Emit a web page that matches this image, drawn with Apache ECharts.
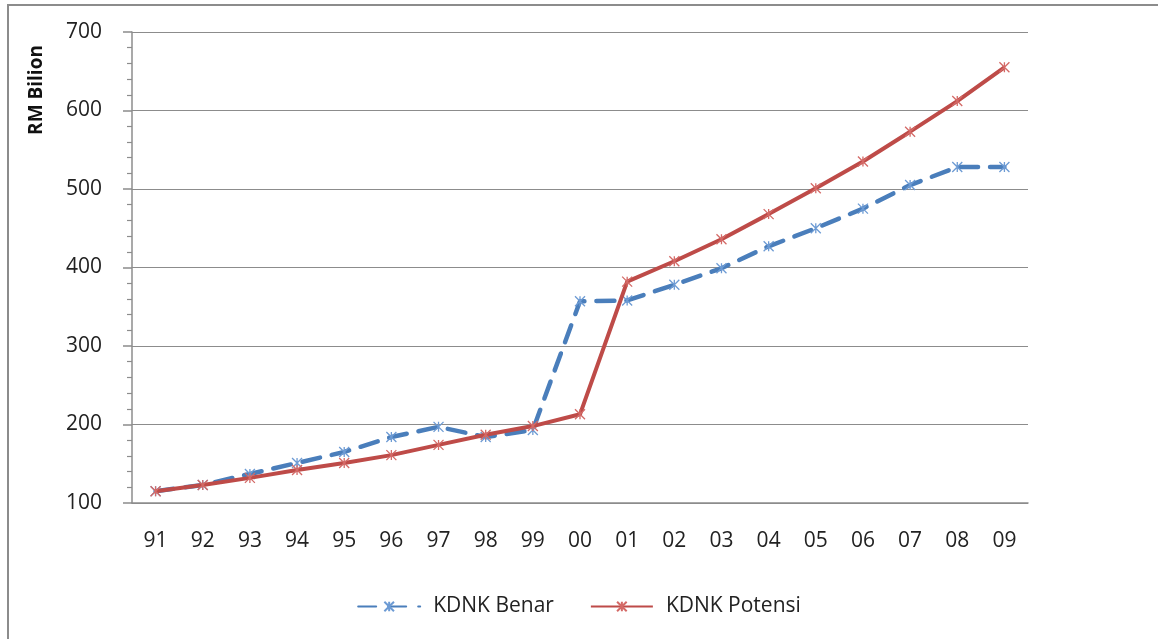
<!DOCTYPE html>
<html>
<head>
<meta charset="utf-8">
<script src="https://cdn.jsdelivr.net/npm/echarts@6/dist/echarts.min.js"></script>
<style>
    html, body { margin: 0; padding: 0; background: #fff; }
    #frame { position: absolute; left: 7px; top: 4px; width: 1151px; height: 635px;
             border-left: 2px solid #8c8c8c; border-top: 2px solid #8c8c8c; }
    #content { position: absolute; left: 0; top: 0; width: 1158px; height: 639px; }
</style>
</head>
<body>
<div id="frame"></div>
<div id="content"></div>
<script>
    var years = ['91', '92', '93', '94', '95', '96', '97', '98', '99', '00',
        '01', '02', '03', '04', '05', '06', '07', '08', '09'];
    var kdnkBenar = [115, 123, 137, 151, 165, 184, 197, 184, 193, 357,
        358, 378, 399, 427, 450, 475, 505, 528, 528];
    var kdnkPotensi = [115, 123, 132, 142, 151, 161, 174, 187, 198, 213,
        382, 408, 436, 468, 501, 535, 573, 612, 655];

    var element = document.getElementById('content');
    var myChart = echarts.init(element);

    var star = 'path://M0,0L10,10M10,0L0,10M5,0L5,10';
    var font = "'Open Sans', 'Noto Sans', sans-serif";

    var option = {
        animation: false,
        grid: { left: 132, right: 130, top: 32, bottom: 136 },
        legend: {
            bottom: 17,
            left: 'center',
            itemWidth: 62,
            itemHeight: 12,
            itemGap: 36,
            textStyle: { fontFamily: font, fontSize: 21, color: '#222', padding: [0, 0, 0, 8] },
            data: ['KDNK Benar', 'KDNK Potensi']
        },
        graphic: [{
            type: 'text',
            x: 37,
            y: 90,
            rotation: Math.PI / 2,
            style: {
                text: 'RM Bilion',
                font: "bold 19px 'Open Sans', 'Noto Sans', sans-serif",
                fill: '#111',
                align: 'center',
                verticalAlign: 'middle'
            }
        }],
        xAxis: {
            type: 'category',
            data: years,
            boundaryGap: true,
            axisLine: { lineStyle: { color: '#8c8c8c', width: 1.5 } },
            axisTick: { length: 9, lineStyle: { color: '#8c8c8c', width: 1.5 } },
            axisLabel: { margin: 28, fontFamily: font, fontSize: 21, color: '#222' }
        },
        yAxis: {
            type: 'value',
            min: 100,
            max: 700,
            interval: 100,
            axisLine: { show: true, lineStyle: { color: '#8c8c8c', width: 1.5 } },
            axisTick: { show: true, length: 9, lineStyle: { color: '#8c8c8c', width: 1.5 } },
            minorTick: { show: true, splitNumber: 5, length: 5, lineStyle: { color: '#8c8c8c', width: 1.2 } },
            splitLine: { lineStyle: { color: '#8c8c8c', width: 1.2 } },
            axisLabel: { margin: 30, fontFamily: font, fontSize: 21, color: '#222' }
        },
        series: [{
            name: 'KDNK Benar',
            type: 'line',
            data: kdnkBenar,
            symbol: star,
            symbolSize: 10,
            lineStyle: { color: '#4a7ebb', width: 4.5, type: [18, 12], cap: 'round' },
            itemStyle: { color: '#4a7ebb', borderColor: '#6d9bd4', borderWidth: 1.3 },
            z: 3
        }, {
            name: 'KDNK Potensi',
            type: 'line',
            data: kdnkPotensi,
            symbol: star,
            symbolSize: 10,
            lineStyle: { color: '#be4b48', width: 4 },
            itemStyle: { color: '#be4b48', borderColor: '#d46a67', borderWidth: 1.3 },
            z: 4
        }]
    };
    myChart.setOption(option);
</script>
</body>
</html>
